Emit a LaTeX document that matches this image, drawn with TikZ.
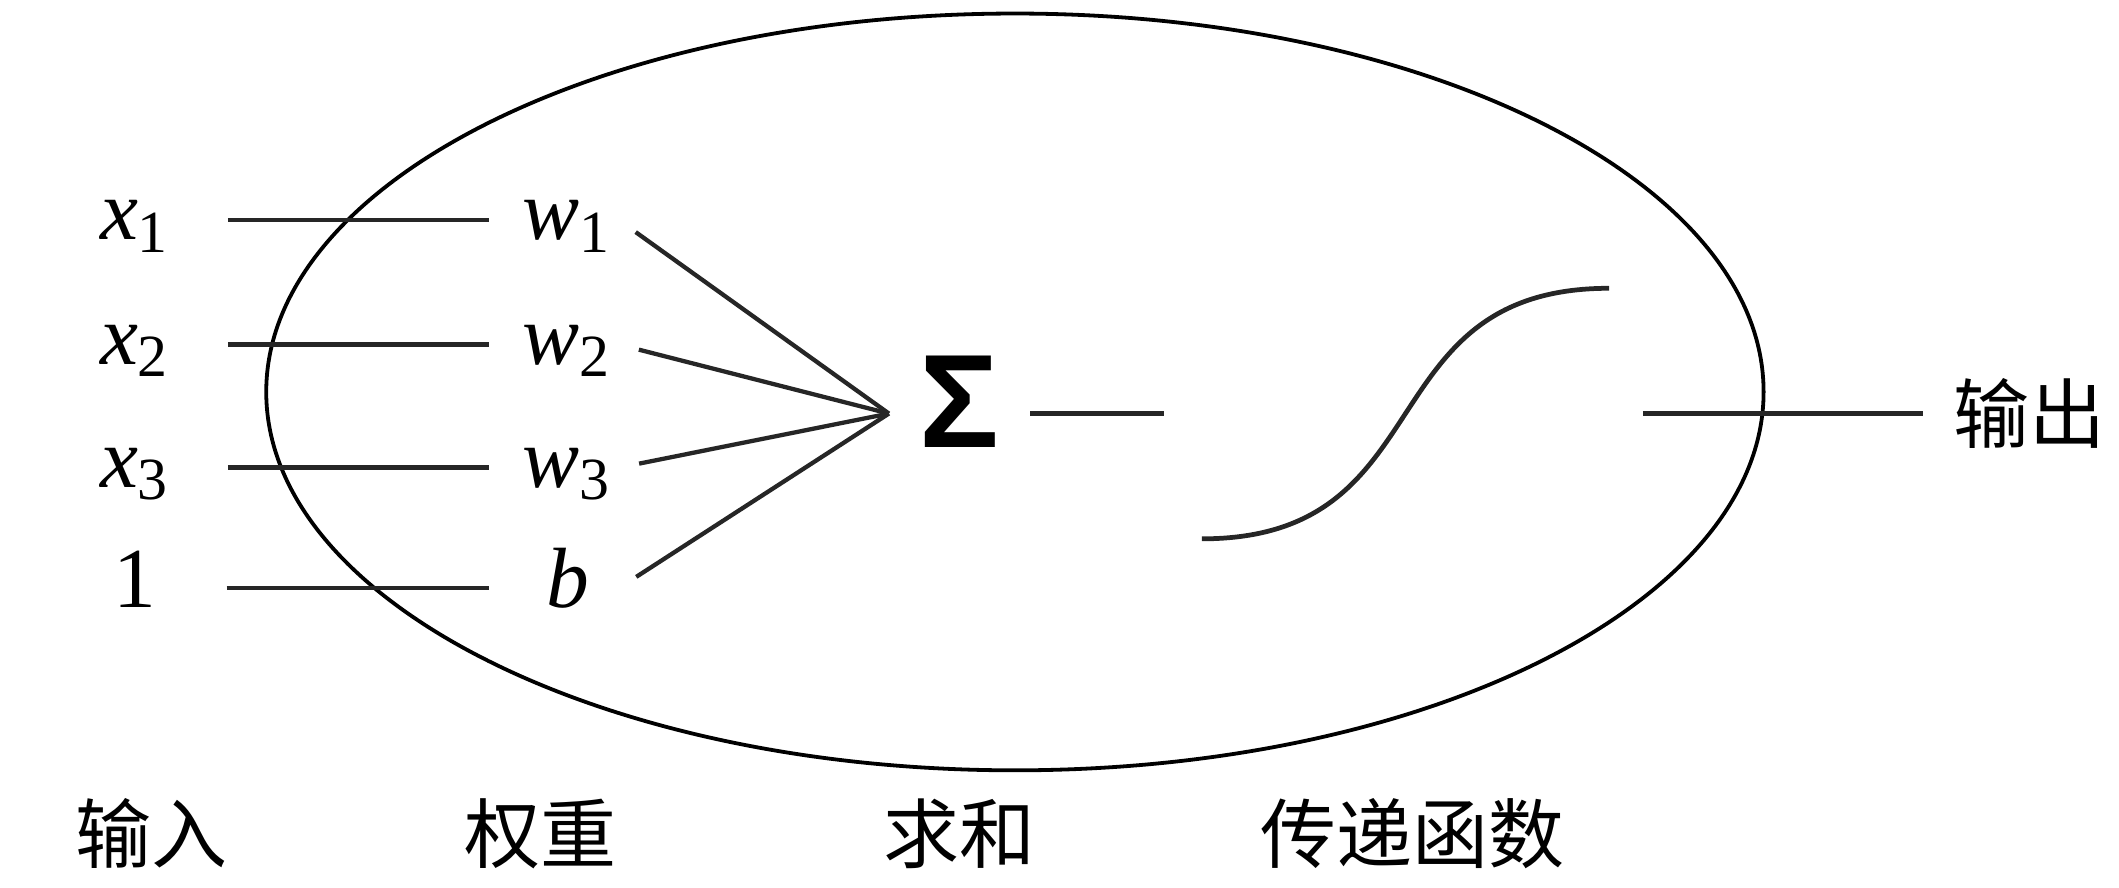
\documentclass[tikz,border=0pt]{standalone}
\usepackage{fontspec}
\setmainfont{Liberation Serif}
\newfontfamily\cjk{Noto Sans CJK SC}
\newfontfamily\sigmafont{Liberation Sans}
\usetikzlibrary{positioning,calc,shapes.geometric}
\tikzset{lbl/.style={inner sep=0pt, text height=0.29cm, text depth=0pt, font=\fontsize{18}{20}\selectfont}}
\tikzset{inp/.style={lbl, minimum width=0.5cm}}
\tikzset{wgt/.style={lbl, minimum width=0.75cm}}
\tikzset{captxt/.style={inner sep=0pt, font=\cjk\fontsize{16}{18}\selectfont}}
\tikzset{wire/.style={draw, line width=0.9pt, black!85}}

\newcommand{\var}[2]{\textit{#1}\textsubscript{#2}}

\begin{document}
\begin{tikzpicture}
	\useasboundingbox (0,0) rectangle (15.68,-6.57);
	% cell body
	\node[ellipse, draw, line width=0.8pt, minimum width=11.08cm, minimum height=5.6cm] (cell) at (7.51,-2.90) {};
	% inputs and weights
	\node[inp] (x1) at (1.00,-1.63) {\var{x}{1}};
	\node[inp] (x2) at (1.00,-2.55) {\var{x}{2}};
	\node[inp] (x3) at (1.00,-3.46) {\var{x}{3}};
	\node[inp] (one) at (1.00,-4.35) {1};
	\node[wgt] (w1) at (4.20,-1.63) {\var{w}{1}};
	\node[wgt] (w2) at (4.20,-2.55) {\var{w}{2}};
	\node[wgt] (w3) at (4.20,-3.46) {\var{w}{3}};
	\node[wgt] (b) at (4.20,-4.35) {\textit{b}};
	\foreach \i/\j in {x1/w1,x2/w2,x3/w3,one/b}
		\draw[wire, shorten <=0.42cm, shorten >=0.2cm] (\i.east) -- (\j.west);
	% summation
	\node[inner sep=0.22cm, text height=0.66cm, text depth=0.16cm,
		font=\sigmafont\bfseries\fontsize{28}{30}\selectfont] (sum) at (7.10,-3.06) {Σ};
	\foreach \j in {w1,w2,w3,b}
		\draw[wire, shorten <=0.15cm] (\j.east) -- (sum.west);
	% transfer function
	\node[inner sep=0pt, minimum width=3.0cm, minimum height=1.84cm] (sig) at (10.40,-3.06) {};
	\draw[wire, line width=1pt] (sig.south west)
		.. controls ($(sig.south west)+(1.8,0)$) and ($(sig.north east)+(-1.8,0)$) .. (sig.north east);
	\draw[wire, shorten >=0.28cm] (sum.east) -- (sig.west);
	% output
	\node[captxt] (out) at (15.02,-3.06) {输出};
	\draw[wire, shorten <=0.25cm, shorten >=0.22cm] (sig.east) -- (out.west);
	% captions
	\node[captxt] (capin) at (1.12,-6.17) {输入};
	\node[captxt] (capw) at (4.00,-6.17) {权重};
	\node[captxt] (capsum) at (7.10,-6.17) {求和};
	\node[captxt] (capf) at (10.45,-6.17) {传递函数};
\end{tikzpicture}
\end{document}
